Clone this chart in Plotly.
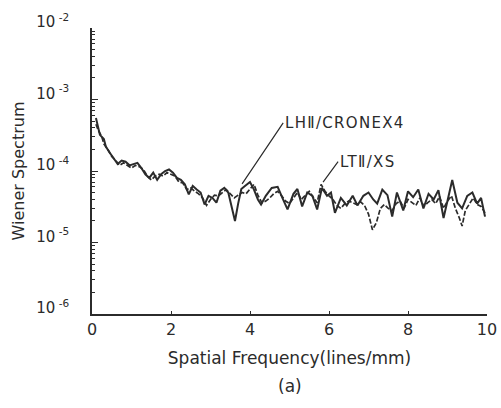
import math
import plotly.graph_objects as go

# LH II / CRONEX 4 (solid)
freq_lh = [0.10, 0.15, 0.20, 0.30, 0.35, 0.45, 0.55, 0.65, 0.75, 0.85, 0.95, 1.05, 1.15, 1.25,
           1.35, 1.45, 1.55, 1.65, 1.75, 1.85, 1.95, 2.05, 2.15, 2.25, 2.35, 2.45, 2.55, 2.65,
           2.75, 2.85, 2.95, 3.05, 3.15, 3.25, 3.35, 3.45, 3.55, 3.62, 3.70, 3.78, 3.88, 4.00,
           4.10, 4.20, 4.28, 4.40, 4.55, 4.70, 4.82, 4.95, 5.10, 5.20, 5.32, 5.45, 5.58, 5.70,
           5.82, 5.95, 6.05, 6.15, 6.30, 6.45, 6.60, 6.72, 6.87, 7.00, 7.12, 7.22, 7.35, 7.48,
           7.60, 7.72, 7.88, 8.00, 8.13, 8.26, 8.39, 8.52, 8.65, 8.77, 8.90, 9.00, 9.12, 9.25,
           9.37, 9.50, 9.63, 9.75, 9.85, 9.95]
ws_lh = [5.5e-4, 4.2e-4, 3.2e-4, 2.8e-4, 2.2e-4, 1.8e-4, 1.5e-4, 1.25e-4, 1.4e-4, 1.35e-4, 1.2e-4,
         1.25e-4, 1.3e-4, 1.1e-4, 9.0e-5, 8.0e-5, 9.5e-5, 7.5e-5, 9.0e-5, 1.0e-4, 1.05e-4, 9.5e-5,
         8.0e-5, 7.5e-5, 6.5e-5, 4.7e-5, 6.2e-5, 5.5e-5, 5.0e-5, 3.4e-5, 4.5e-5, 4.2e-5, 3.6e-5,
         5.3e-5, 5.8e-5, 5.0e-5, 3.0e-5, 2.0e-5, 3.5e-5, 5.6e-5, 6.2e-5, 7.0e-5, 5.5e-5, 4.0e-5,
         3.4e-5, 4.5e-5, 5.8e-5, 6.0e-5, 4.2e-5, 2.9e-5, 4.8e-5, 5.6e-5, 3.2e-5, 5.0e-5, 4.5e-5,
         2.9e-5, 5.8e-5, 4.5e-5, 5.0e-5, 2.6e-5, 4.2e-5, 3.3e-5, 4.5e-5, 3.3e-5, 4.5e-5, 5.0e-5,
         4.0e-5, 3.5e-5, 5.5e-5, 4.6e-5, 2.3e-5, 5.0e-5, 2.8e-5, 5.2e-5, 4.3e-5, 5.5e-5, 3.0e-5,
         4.8e-5, 4.0e-5, 5.4e-5, 2.2e-5, 4.0e-5, 7.5e-5, 3.6e-5, 3.0e-5, 4.5e-5, 5.0e-5, 3.5e-5,
         4.2e-5, 2.3e-5]

# LT II / XS (dashed)
freq_lt = [0.10, 0.15, 0.25, 0.30, 0.40, 0.50, 0.60, 0.70, 0.80, 0.90, 1.00, 1.10, 1.20, 1.30,
           1.40, 1.50, 1.60, 1.70, 1.80, 1.90, 2.00, 2.10, 2.20, 2.30, 2.40, 2.50, 2.60, 2.70,
           2.80, 2.90, 3.00, 3.10, 3.20, 3.30, 3.40, 3.50, 3.60, 3.70, 3.80, 3.90, 4.00, 4.10,
           4.20, 4.30, 4.40, 4.50, 4.60, 4.70, 4.80, 4.90, 5.00, 5.10, 5.20, 5.30, 5.40, 5.50,
           5.60, 5.70, 5.80, 5.90, 6.00, 6.10, 6.20, 6.30, 6.40, 6.50, 6.60, 6.70, 6.80, 6.90,
           7.00, 7.10, 7.20, 7.30, 7.40, 7.50, 7.60, 7.70, 7.80, 7.90, 8.00, 8.10, 8.20, 8.30,
           8.40, 8.50, 8.60, 8.70, 8.80, 8.90, 9.00, 9.10, 9.20, 9.30, 9.37, 9.45, 9.55, 9.65,
           9.75, 9.85, 9.95]
ws_lt = [4.5e-4, 3.8e-4, 3.0e-4, 2.4e-4, 2.0e-4, 1.6e-4, 1.4e-4, 1.2e-4, 1.3e-4, 1.2e-4, 1.1e-4,
         1.2e-4, 1.15e-4, 1.05e-4, 8.5e-5, 7.5e-5, 8.5e-5, 9.0e-5, 8.5e-5, 9.5e-5, 9.0e-5, 8.5e-5,
         7.0e-5, 6.8e-5, 5.5e-5, 5.8e-5, 5.2e-5, 4.8e-5, 4.2e-5, 3.3e-5, 4.0e-5, 4.6e-5, 4.5e-5,
         5.0e-5, 5.5e-5, 4.8e-5, 4.2e-5, 4.6e-5, 5.0e-5, 4.8e-5, 5.5e-5, 6.5e-5, 4.6e-5, 3.6e-5,
         3.8e-5, 4.2e-5, 4.8e-5, 5.2e-5, 4.5e-5, 3.8e-5, 3.5e-5, 4.2e-5, 5.0e-5, 4.0e-5, 4.6e-5,
         5.2e-5, 4.3e-5, 3.6e-5, 6.5e-5, 5.2e-5, 4.5e-5, 4.0e-5, 3.3e-5, 3.0e-5, 3.5e-5, 3.8e-5,
         3.6e-5, 3.4e-5, 3.7e-5, 3.3e-5, 2.5e-5, 1.5e-5, 1.9e-5, 3.0e-5, 3.4e-5, 3.0e-5, 2.8e-5,
         3.5e-5, 3.8e-5, 3.0e-5, 4.0e-5, 3.6e-5, 3.3e-5, 4.2e-5, 3.2e-5, 3.6e-5, 4.0e-5, 3.5e-5,
         4.4e-5, 3.0e-5, 3.8e-5, 4.5e-5, 3.0e-5, 2.2e-5, 1.7e-5, 2.8e-5, 3.4e-5, 4.2e-5, 3.4e-5,
         3.2e-5, 2.6e-5]

x_ticks = [0, 2, 4, 6, 8, 10]
y_exponents = [-6, -5, -4, -3, -2]
y_ticktext = ["10<sup> -%d</sup>" % (-e) for e in y_exponents]

# label text, pointed-at data point, label anchor point
labels = [
    ("LHⅡ/CRONEX4", 3.80, 6.6e-5, 4.84, 4.7e-4),
    ("LTⅡ/XS", 5.85, 7.0e-5, 6.23, 1.35e-4),
]

ink = "#2b2b2b"
font_family = "DejaVu Sans"

fig = go.Figure()
fig.add_trace(go.Scatter(x=freq_lh, y=ws_lh, mode="lines",
                         line=dict(color=ink, width=2.0), name="LHⅡ/CRONEX4"))
fig.add_trace(go.Scatter(x=freq_lt, y=ws_lt, mode="lines",
                         line=dict(color=ink, width=1.7, dash="5px,2px"), name="LTⅡ/XS"))

for text, px, py, tx, ty in labels:
    fig.add_annotation(x=px, y=math.log10(py), ax=tx, ay=math.log10(ty),
                       axref="x", ayref="y", xref="x", yref="y",
                       text='<span style="letter-spacing:1.3px">%s</span>' % text,
                       showarrow=True, arrowhead=0, arrowwidth=1.2,
                       arrowcolor=ink, xanchor="left", yanchor="middle",
                       font=dict(family=font_family, size=15, color=ink))

fig.add_annotation(x=0.5, y=0.0, xref="paper", yref="paper", yshift=-72,
                   text="(a)", showarrow=False, yanchor="middle",
                   font=dict(family=font_family, size=17, color=ink))

minor_vals = [m * 10.0 ** e for e in range(-6, -2) for m in range(2, 10)]

fig.update_layout(
    width=501, height=408,
    margin=dict(l=92, r=14, t=28, b=94),
    paper_bgcolor="white", plot_bgcolor="white",
    showlegend=False,
    font=dict(family=font_family, color=ink, size=15),
    xaxis=dict(range=[0, 10], tickvals=x_ticks, ticks="inside", ticklen=3,
               tickcolor=ink, showline=True, linecolor=ink, linewidth=1.6,
               showgrid=False, zeroline=False, automargin=False,
               tickfont=dict(size=16, color=ink),
               title=dict(text="Spatial Frequency(lines/mm)", standoff=14,
                          font=dict(size=17, color=ink))),
    yaxis=dict(type="log", range=[-6, -2], tickvals=[10.0 ** e for e in y_exponents],
               ticktext=y_ticktext, ticks="inside", ticklen=6, tickcolor=ink,
               showline=True, linecolor=ink, linewidth=1.6, showgrid=False,
               zeroline=False, ticklabelstandoff=18, ticklabelshift=-6, automargin=False,
               minor=dict(tickvals=minor_vals, ticks="inside", ticklen=3, tickcolor=ink),
               tickfont=dict(size=15, color=ink),
               title=dict(text="Wiener Spectrum", standoff=8,
                          font=dict(size=16, color=ink))),
)

fig.write_html("out.html")
